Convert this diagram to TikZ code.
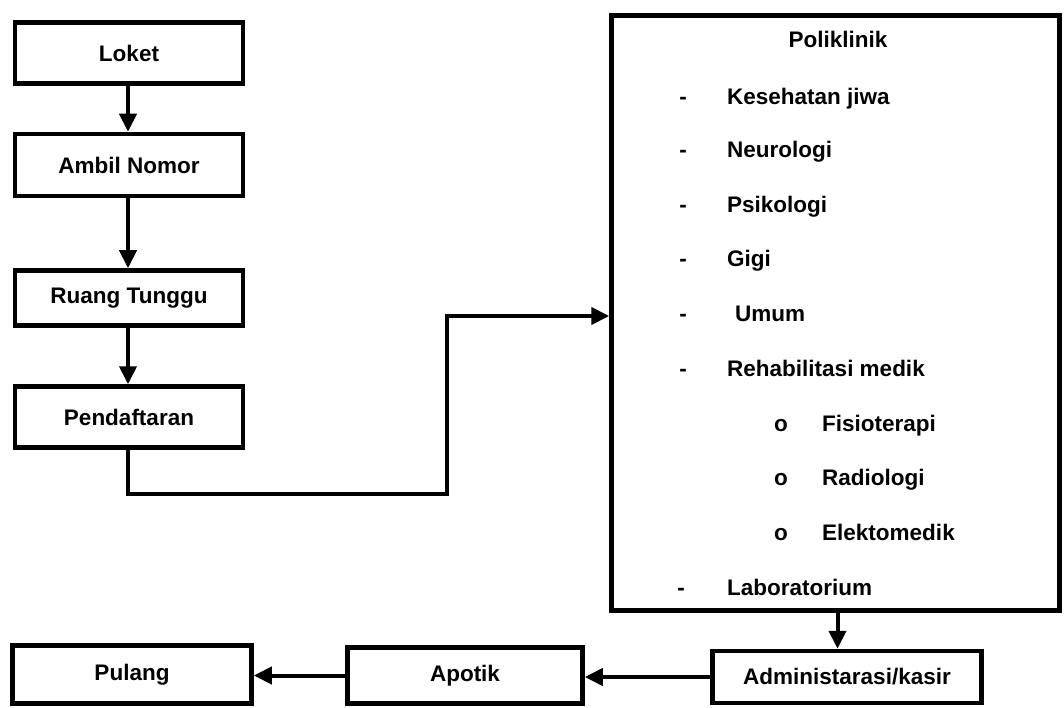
\documentclass[tikz,border=0pt]{standalone}
\usepackage{fontspec}
\setmainfont{Liberation Sans}
\usetikzlibrary{arrows.meta,calc}
\begin{document}
\begin{tikzpicture}[x=1pt,y=-1pt,
  txt/.style={font=\bfseries\fontsize{22.5}{27}\selectfont},
  box/.style={txt, draw, line width=4.5pt, inner sep=0pt, align=center},
  entry/.style={txt, anchor=base west, inner sep=0pt},
  bullet/.style={txt, anchor=base, inner sep=0pt},
  arr/.style={line width=4pt, -{Triangle[length=18pt,width=17pt]}}
]
\useasboundingbox (0,0) rectangle (1064,708);

% left column
\node[box, minimum width=228pt, minimum height=61pt] (loket) at (129,53) {Loket};
\node[box, minimum width=228pt, minimum height=62pt] (ambil) at (129,165) {Ambil Nomor};
\node[box, minimum width=228pt, minimum height=55pt] (ruang) at (129,298) {Ruang Tunggu};
\node[box, minimum width=228pt, minimum height=61pt] (daftar) at (129,417) {Pendaftaran};

% poliklinik box
\node[box, minimum width=448pt, minimum height=595pt] (poli) at (835.5,313) {};
\node[txt, anchor=base, inner sep=0pt] (politle) at (838,48) {Poliklinik};

\node[bullet] (d1) at (683,105) {-};  \node[entry] (k1) at (727,105) {Kesehatan jiwa};
\node[bullet] (d2) at (683,158) {-};  \node[entry] (k2) at (727,158) {Neurologi};
\node[bullet] (d3) at (683,213) {-};  \node[entry] (k3) at (727,213) {Psikologi};
\node[bullet] (d4) at (683,266) {-};  \node[entry] (k4) at (727,266) {Gigi};
\node[bullet] (d5) at (683,321) {-};  \node[entry] (k5) at (735,321) {Umum};
\node[bullet] (d6) at (683,376) {-};  \node[entry] (k6) at (727,376) {Rehabilitasi medik};
\node[bullet] (o1) at (781,431) {o};  \node[entry] (s1) at (822,431) {Fisioterapi};
\node[bullet] (o2) at (781,485) {o};  \node[entry] (s2) at (822,485) {Radiologi};
\node[bullet] (o3) at (781,540) {o};  \node[entry] (s3) at (822,540) {Elektomedik};
\node[bullet] (d7) at (681,595) {-};  \node[entry] (k7) at (727,595) {Laboratorium};

% bottom row
\node[box, minimum width=239pt, minimum height=58pt] (pulang) at (132,674.5) {Pulang};
\node[box, minimum width=235pt, minimum height=56pt] (apotik) at (465,675.5) {Apotik};
\node[box, minimum width=269pt, minimum height=52pt] (admin) at (847,677) {Administarasi/kasir};

% connectors
\draw[arr] ([xshift=-1pt]loket.south) -- ([xshift=-1pt]ambil.north);
\draw[arr] ([xshift=-1pt]ambil.south) -- ([xshift=-1pt]ruang.north);
\draw[arr] ([xshift=-1pt]ruang.south) -- ([xshift=-1pt]daftar.north);
\coordinate (jog) at (447,494);
\draw[arr] ([xshift=-1pt]daftar.south) |- (jog) |- ([yshift=-3pt]poli.west);
\draw[arr] ([xshift=2pt]poli.south) -- ([xshift=2pt]poli.south |- admin.north);
\draw[arr] (admin.west) -- (admin.west -| apotik.east);
\draw[arr] (apotik.west) -- (apotik.west -| pulang.east);
\end{tikzpicture}
\end{document}
